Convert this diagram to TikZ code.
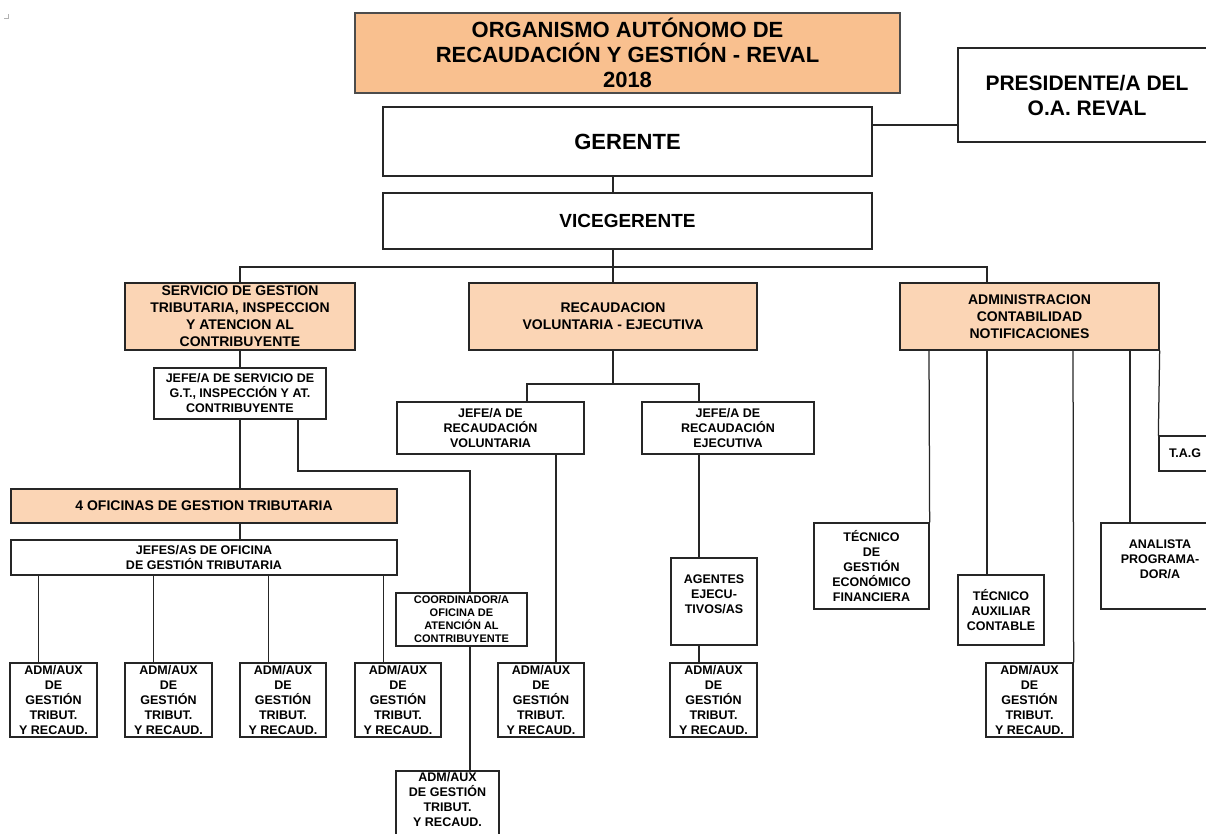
\documentclass[tikz,border=0pt]{standalone}
\usepackage{fontspec}
\setmainfont{Liberation Sans}
\definecolor{titlefill}{HTML}{F9C08F}
\definecolor{peach}{HTML}{FBD5B5}
\definecolor{ln}{HTML}{262626}
\begin{document}
\begin{tikzpicture}[x=1pt,y=-1pt,
 box/.style={draw=ln, line width=1.3pt, rectangle, inner sep=0pt, align=center, font=\bfseries\fontsize{12.5}{15}\selectfont},
 pbox/.style={box, fill=peach, font=\bfseries\fontsize{14}{17}\selectfont},
 txt/.style={inner sep=0pt, align=center, font=\bfseries\fontsize{12.5}{15}\selectfont},
 link/.style={draw=ln, line width=1.25pt},
]
\useasboundingbox (0,0) rectangle (1206,834);
\clip (0,0) rectangle (1206,834);
% small corner mark
\draw[gray!60, line width=0.6pt] (4,18) -- (8,18) -- (8,14);

% top
\node[box, draw=black!70, line width=1.6pt, fill=titlefill, minimum width=545pt, minimum height=80pt, font=\bfseries\fontsize{22}{25}\selectfont] (title) at (627.5,53) {ORGANISMO AUTÓNOMO DE\\RECAUDACIÓN Y GESTIÓN - REVAL\\2018};
\node[box, minimum width=258pt, minimum height=94pt, font=\bfseries\fontsize{21}{25}\selectfont] (pres) at (1087,95) {PRESIDENTE/A DEL\\O.A. REVAL};
\node[box, minimum width=489pt, minimum height=69pt, font=\bfseries\fontsize{22}{25}\selectfont] (ger) at (627.5,141.5) {GERENTE};
\node[box, minimum width=489pt, minimum height=56pt, font=\bfseries\fontsize{19}{22}\selectfont] (vice) at (627.5,221) {VICEGERENTE};

% second level
\node[pbox, minimum width=230pt, minimum height=67pt] (serv) at (240,316.5) {SERVICIO DE GESTION\\TRIBUTARIA, INSPECCION\\Y ATENCION AL\\CONTRIBUYENTE};
\node[pbox, minimum width=288pt, minimum height=67pt] (recv) at (613,316.5) {RECAUDACION\\VOLUNTARIA - EJECUTIVA};
\node[pbox, minimum width=259pt, minimum height=67pt] (admin) at (1029.5,316.5) {ADMINISTRACION\\CONTABILIDAD\\NOTIFICACIONES};

% left branch
\node[box, minimum width=172pt, minimum height=51pt] (jserv) at (240,393.5) {JEFE/A DE SERVICIO DE\\G.T., INSPECCIÓN Y AT.\\CONTRIBUYENTE};
\node[pbox, minimum width=386pt, minimum height=34pt] (ofic) at (204,506) {4 OFICINAS DE GESTION TRIBUTARIA};
\node[box, minimum width=386pt, minimum height=35pt] (jefes) at (204,557.5) {JEFES/AS DE OFICINA\\DE GESTIÓN TRIBUTARIA};
\node[box, minimum width=87pt, minimum height=74pt] (adm1) at (53.5,700) {ADM/AUX\\DE\\GESTIÓN\\TRIBUT.\\Y RECAUD.};
\node[box, minimum width=87pt, minimum height=74pt] (adm2) at (168.5,700) {ADM/AUX\\DE\\GESTIÓN\\TRIBUT.\\Y RECAUD.};
\node[box, minimum width=86pt, minimum height=74pt] (adm3) at (283,700) {ADM/AUX\\DE\\GESTIÓN\\TRIBUT.\\Y RECAUD.};
\node[box, minimum width=86pt, minimum height=74pt] (adm4) at (398,700) {ADM/AUX\\DE\\GESTIÓN\\TRIBUT.\\Y RECAUD.};
\node[box, minimum width=131pt, minimum height=53pt, font=\bfseries\fontsize{11}{13}\selectfont] (coord) at (461.5,619.5) {COORDINADOR/A\\OFICINA DE\\ATENCIÓN AL\\CONTRIBUYENTE};
\node[box, minimum width=103pt, minimum height=74pt] (adm5) at (447.5,808) {};
\node[txt] (adm5t) at (447.5,800) {ADM/AUX\\DE GESTIÓN\\TRIBUT.\\Y RECAUD.};

% middle branch
\node[box, minimum width=187pt, minimum height=52pt] (jvol) at (490.5,428) {JEFE/A DE\\RECAUDACIÓN\\VOLUNTARIA};
\node[box, minimum width=172pt, minimum height=52pt] (jeje) at (728,428) {JEFE/A DE\\RECAUDACIÓN\\EJECUTIVA};
\node[box, minimum width=86pt, minimum height=74pt] (adm6) at (541,700) {ADM/AUX\\DE\\GESTIÓN\\TRIBUT.\\Y RECAUD.};
\node[box, minimum width=86pt, minimum height=87pt] (agen) at (714,601.5) {};
\node[txt] (agent) at (714,594) {AGENTES\\EJECU-\\TIVOS/AS};
\node[box, minimum width=87pt, minimum height=74pt] (adm7) at (713.5,700) {ADM/AUX\\DE\\GESTIÓN\\TRIBUT.\\Y RECAUD.};

% right branch
\node[box, minimum width=115pt, minimum height=86pt] (gef) at (871.5,566) {TÉCNICO\\DE\\GESTIÓN\\ECONÓMICO\\FINANCIERA};
\node[box, minimum width=86pt, minimum height=70pt] (aux) at (1001,610) {TÉCNICO\\AUXILIAR\\CONTABLE};
\node[box, minimum width=87pt, minimum height=74pt] (adm8) at (1029.5,700) {ADM/AUX\\DE\\GESTIÓN\\TRIBUT.\\Y RECAUD.};
\node[box, minimum width=118pt, minimum height=86pt] (anal) at (1160,566) {};
\node[txt] (analt) at (1160,559) {ANALISTA\\PROGRAMA-\\DOR/A};
\node[box, minimum width=91pt, minimum height=35pt] (tag) at (1204.5,453.5) {};
\node[txt, anchor=west] (tagt) at (1169,453.5) {T.A.G};

% connectors
\coordinate (bus) at (613,267);
\coordinate (rj) at (613,384);
\coordinate (jc) at (470,471);
\draw[link] ([yshift=16.5pt]ger.east) -- ([yshift=16.5pt]ger.east -| pres.west);
\draw[link] ([xshift=-14.5pt]ger.south) -- ([xshift=-14.5pt]vice.north);
\draw[link] ([xshift=-14.5pt]vice.south) -- (bus);
\draw[link] (serv.north) |- (bus);
\draw[link] (recv.north) -- (bus);
\draw[link] ([xshift=-42.5pt]admin.north) |- (bus);

\draw[link] (serv.south) -- (jserv.north);
\draw[link] (jserv.south) -- (jserv.south |- ofic.north);
\draw[link] (jserv.south |- ofic.south) -- (jserv.south |- jefes.north);
\draw[link] ([xshift=58pt]jserv.south) |- (jc) -- ([xshift=8.5pt]coord.north);
\draw[link] ([xshift=8.5pt]coord.south) -- ([xshift=8.5pt]coord.south |- adm5.north);
\foreach \a in {adm1,adm2,adm3,adm4}
  \draw[link] ([xshift=29pt]\a.north west) -- ([xshift=29pt]\a.north west |- jefes.south);

\draw[link] (recv.south) -- (rj);
\draw[link] ([xshift=36.5pt]jvol.north) |- (rj) -| ([xshift=-29pt]jeje.north);
\draw[link] ([xshift=65.5pt]jvol.south) -- ([xshift=65.5pt]jvol.south |- adm6.north);
\draw[link] ([xshift=-29pt]jeje.south) -- ([xshift=-29pt]jeje.south |- agen.north);
\draw[link] ([xshift=-15pt]agen.south) -- ([xshift=-15pt]agen.south |- adm7.north);

\draw[link] ([xshift=-100.5pt]admin.south) -- (gef.north east);
\draw[link] ([xshift=-42.5pt]admin.south) -- ([xshift=-42.5pt]admin.south |- aux.north);
\draw[link] ([xshift=43.5pt]admin.south) -- (adm8.north east);
\draw[link] ([xshift=100.5pt]admin.south) -- ([xshift=100.5pt]admin.south |- anal.north);
\draw[link] (admin.south east) -- (tag.north west);
\end{tikzpicture}
\end{document}
